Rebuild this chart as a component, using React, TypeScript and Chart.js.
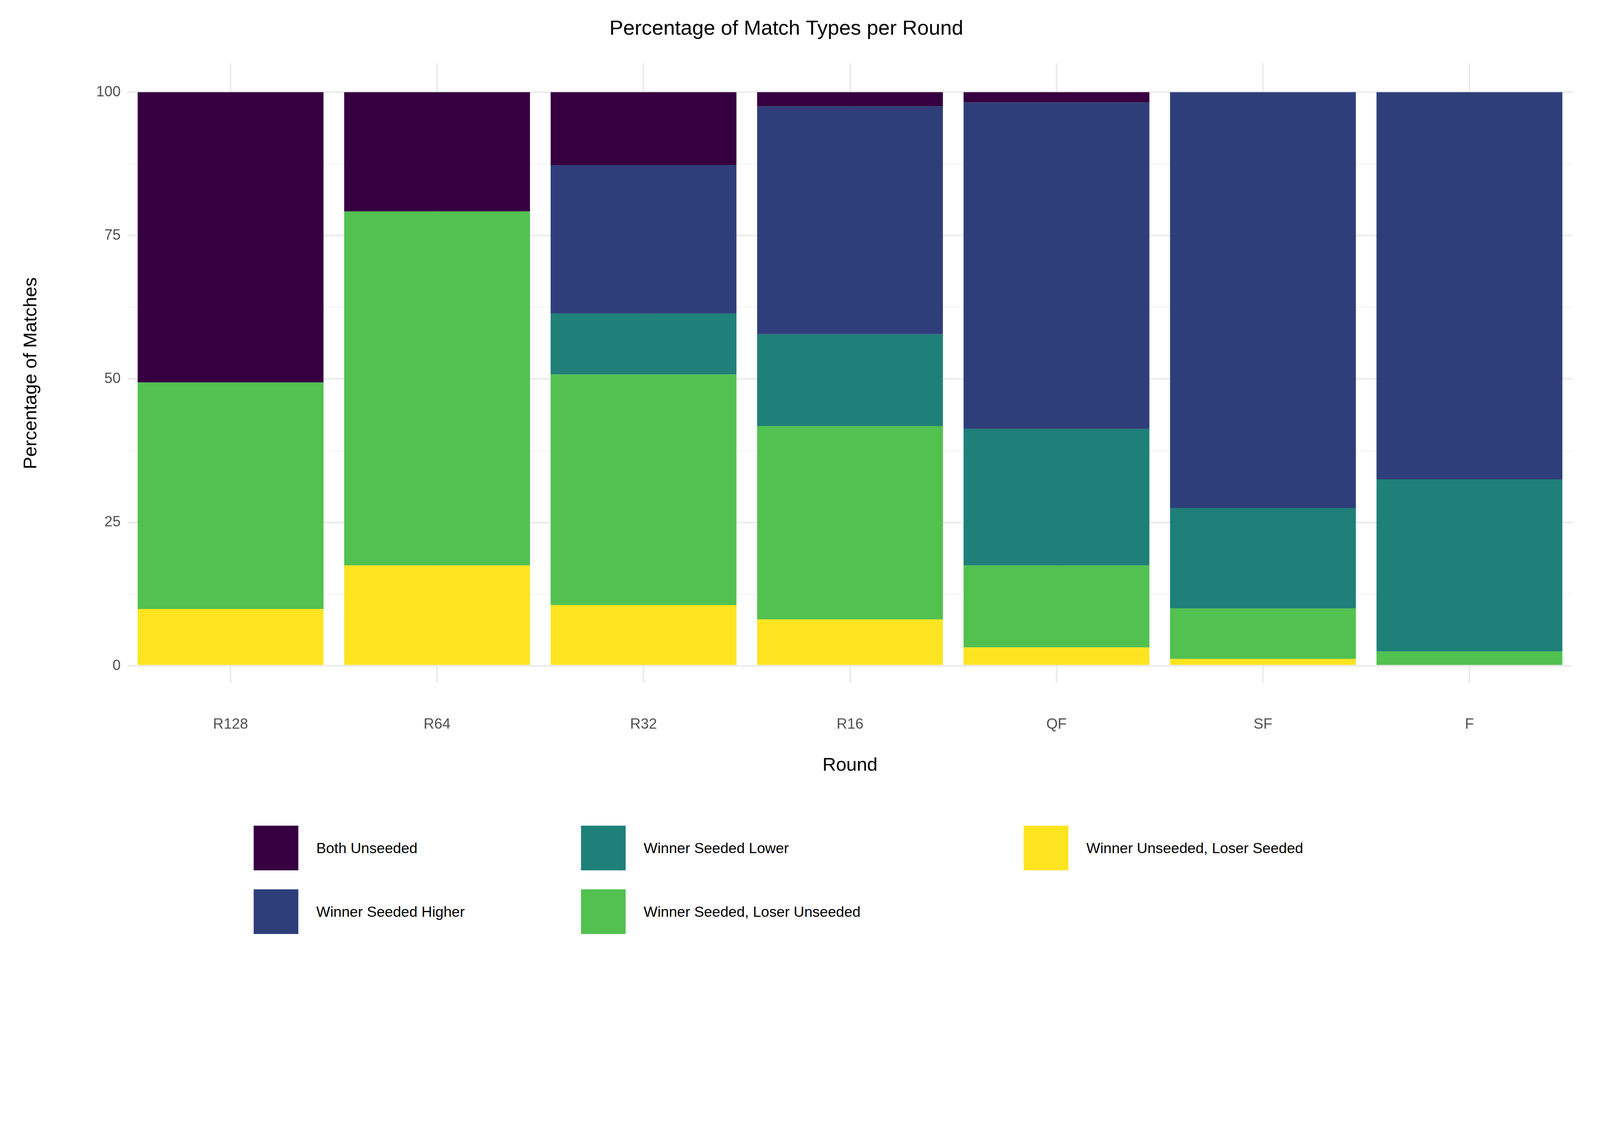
import { useEffect, useRef, useState } from "react";
import { Chart, registerables } from "chart.js";

Chart.register(...registerables);

const rounds = ["R128", "R64", "R32", "R16", "QF", "SF", "F"];
const winnerUnseededLoserSeeded = [9.9, 17.5, 10.6, 8.1, 3.2, 1.2, 0];
const winnerSeededLoserUnseeded = [39.5, 61.7, 40.2, 33.7, 14.3, 8.8, 2.5];
const winnerSeededLower = [0, 0, 10.6, 16.0, 23.8, 17.5, 30.0];
const winnerSeededHigher = [0, 0, 25.9, 39.7, 56.9, 72.5, 67.5];
const bothUnseeded = [50.6, 20.8, 12.7, 2.5, 1.8, 0, 0];
const yTicks = [0, 12.5, 25, 37.5, 50, 62.5, 75, 87.5, 100];

const COLORS = {
  both: "#360040",
  higher: "#2E3E7A",
  lower: "#1F7F79",
  seededUnseeded: "#51C150",
  unseededSeeded: "#FDE421",
};

const FONT = "'Liberation Sans', Arial, sans-serif";

const legendItems = [
  { label: "Both Unseeded", color: COLORS.both, x: 761, y: 2544 },
  { label: "Winner Seeded Higher", color: COLORS.higher, x: 761, y: 2735 },
  { label: "Winner Seeded Lower", color: COLORS.lower, x: 1743, y: 2544 },
  { label: "Winner Seeded, Loser Unseeded", color: COLORS.seededUnseeded, x: 1743, y: 2735 },
  { label: "Winner Unseeded, Loser Seeded", color: COLORS.unseededSeeded, x: 3071, y: 2544 },
];

const MatchChart = () => {
  const chartRef = useRef<HTMLCanvasElement | null>(null);

  useEffect(() => {
    if (!chartRef.current) return;
    const chartInstance = new Chart(chartRef.current, {
      type: "bar",
      data: {
        labels: rounds,
        datasets: [
          { label: "Winner Unseeded, Loser Seeded", data: winnerUnseededLoserSeeded, backgroundColor: COLORS.unseededSeeded },
          { label: "Winner Seeded, Loser Unseeded", data: winnerSeededLoserUnseeded, backgroundColor: COLORS.seededUnseeded },
          { label: "Winner Seeded Lower", data: winnerSeededLower, backgroundColor: COLORS.lower },
          { label: "Winner Seeded Higher", data: winnerSeededHigher, backgroundColor: COLORS.higher },
          { label: "Both Unseeded", data: bothUnseeded, backgroundColor: COLORS.both },
        ],
      },
      options: {
        animation: false,
        responsive: false,
        devicePixelRatio: 1,
        layout: { padding: { left: 0, right: 82, bottom: 0 } },
        datasets: { bar: { categoryPercentage: 1, barPercentage: 0.9 } },
        plugins: {
          legend: { display: false },
          tooltip: { enabled: false },
          title: {
            display: true,
            text: "Percentage of Match Types per Round",
            color: "#000",
            font: { family: FONT, size: 62, weight: "normal" },
            padding: { top: 50, bottom: 66 },
          },
        },
        scales: {
          x: {
            stacked: true,
            grid: { color: "#EBEBEB", lineWidth: 5, drawTicks: false, offset: false },
            border: { display: false },
            ticks: { color: "#4D4D4D", font: { family: FONT, size: 44 }, padding: 98 },
            title: {
              display: true,
              text: "Round",
              color: "#000",
              font: { family: FONT, size: 56 },
              padding: { top: -35, bottom: 0 },
            },
          },
          y: {
            stacked: true,
            min: -3,
            max: 105,
            afterBuildTicks: (axis: any) => {
              axis.ticks = yTicks.map((v) => ({ value: v }));
            },
            afterFit: (axis: any) => {
              axis.width = 382;
            },
            grid: {
              drawTicks: false,
              color: (ctx: any) => (ctx.tick && ctx.tick.value % 25 === 0 ? "#EBEBEB" : "#F4F4F4"),
              lineWidth: (ctx: any) => (ctx.tick && ctx.tick.value % 25 === 0 ? 5 : 3),
            },
            border: { display: false },
            ticks: {
              color: "#4D4D4D",
              font: { family: FONT, size: 44 },
              padding: 20,
              callback: (v: any) => (Number(v) % 25 === 0 ? String(v) : ""),
            },
            title: {
              display: true,
              text: "Percentage of Matches",
              color: "#000",
              font: { family: FONT, size: 56 },
              padding: { top: 60, bottom: 10 },
            },
          },
        },
      },
    });
    return () => {
      chartInstance.destroy();
    };
  }, []);

  return <canvas ref={chartRef} width={4800} height={2330} style={{ position: "absolute", left: 0, top: 0 }} />;
};

export default function App() {
  const [scale, setScale] = useState(1);

  useEffect(() => {
    document.body.style.margin = "0";
    document.body.style.overflow = "hidden";
    const w = document.documentElement.clientWidth || window.innerWidth;
    const h = document.documentElement.clientHeight || window.innerHeight;
    setScale(Math.min(w / 4800, h / 2880));
  }, []);

  return (
    <div style={{ width: 4800 * scale, height: 2880 * scale, overflow: "hidden" }}>
      <div
        style={{
          position: "relative",
          width: 4800,
          height: 2880,
          background: "#fff",
          transform: `scale(${scale})`,
          transformOrigin: "0 0",
        }}
      >
        <MatchChart />
        {legendItems.map((it) => (
          <div
            key={it.label}
            style={{
              position: "absolute",
              left: it.x,
              top: it.y - 68,
              height: 136,
              display: "flex",
              alignItems: "center",
              fontFamily: FONT,
              fontSize: 44,
              color: "#000",
              whiteSpace: "nowrap",
            }}
          >
            <div style={{ width: 134, height: 134, background: it.color, marginRight: 54 }} />
            {it.label}
          </div>
        ))}
      </div>
    </div>
  );
}
